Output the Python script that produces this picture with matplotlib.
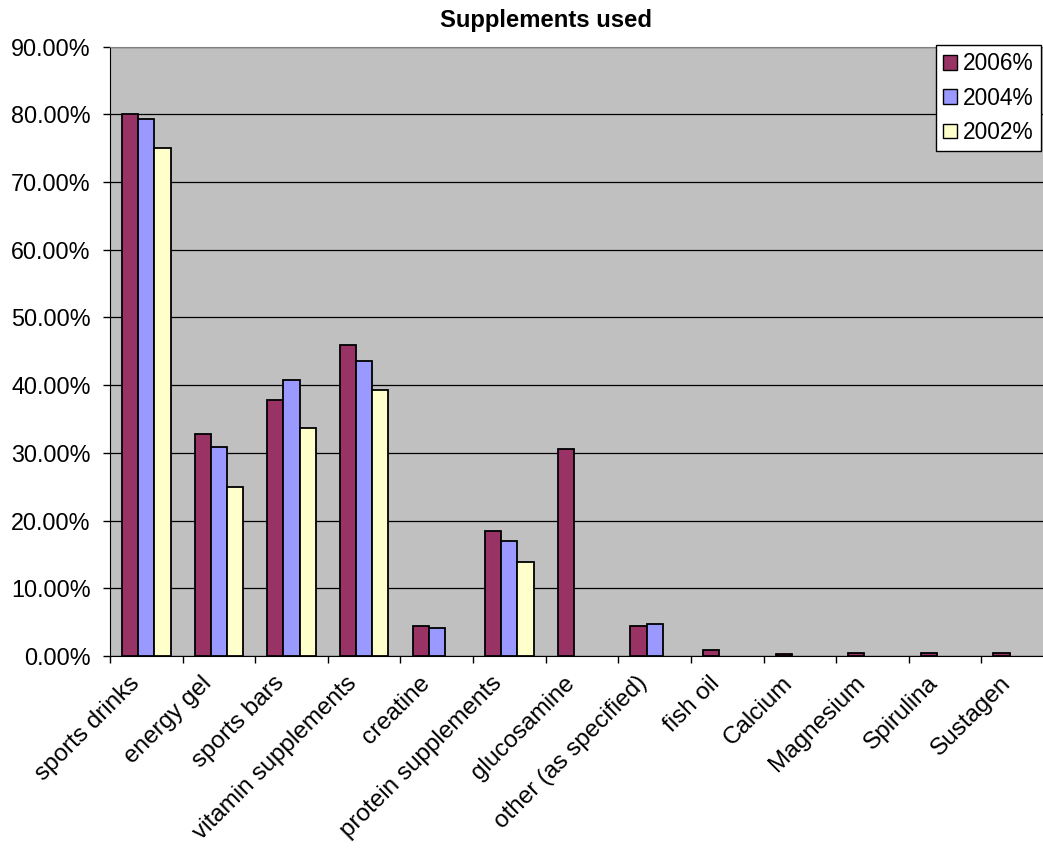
import numpy as np
import matplotlib
matplotlib.use("Agg")
import matplotlib.pyplot as plt
from matplotlib.ticker import FuncFormatter, FixedLocator
from matplotlib.patches import Patch

plt.rcParams['font.family'] = ['Liberation Sans', 'DejaVu Sans']

categories = ["sports drinks", "energy gel", "sports bars", "vitamin supplements",
              "creatine", "protein supplements", "glucosamine", "other (as specified)",
              "fish oil", "Calcium", "Magnesium", "Spirulina", "Sustagen"]

# Percentage of respondents using each supplement (nan = not surveyed)
y2006 = [80.0, 32.8, 37.8, 46.0, 4.5, 18.5, 30.6, 4.5, 0.9, 0.3, 0.45, 0.5, 0.4]
y2004 = [79.3, 30.8, 40.7, 43.6, 4.2, 17.0, np.nan, 4.8, np.nan, np.nan, np.nan, np.nan, np.nan]
y2002 = [75.1, 24.9, 33.7, 39.3, np.nan, 13.9, np.nan, np.nan, np.nan, np.nan, np.nan, np.nan, np.nan]

series = [("2006%", y2006, "#993366"),
          ("2004%", y2004, "#9999FF"),
          ("2002%", y2002, "#FFFFCC")]

W, H = 1043, 848
fig = plt.figure(figsize=(W / 100, H / 100), dpi=100)
left, right, top, bottom = 110, 1054, 46.7, 656
ax = fig.add_axes([left / W, (H - bottom) / H, (right - left) / W, (bottom - top) / H])
ax.set_facecolor("#C0C0C0")

x = np.arange(len(categories))
bw = 1 / 4.5
for i, (name, vals, col) in enumerate(series):
    ax.bar(x + (i - 1) * bw, vals, width=bw, color=col, edgecolor="black",
           linewidth=1.3, zorder=3, label=name)

ax.set_xlim(-0.5, len(categories) - 0.5)
ax.set_ylim(0, 90)
ax.set_yticks(np.arange(0, 91, 10))
ax.yaxis.set_major_formatter(FuncFormatter(lambda v, p: f"{v:.2f}%"))
ax.grid(axis="y", color="black", linewidth=0.9, zorder=1)
ax.set_axisbelow(True)

# category boundaries carry the tick marks; labels sit at the centers
ax.xaxis.set_major_locator(FixedLocator(np.arange(-0.5, len(categories), 1)))
ax.xaxis.set_major_formatter(FuncFormatter(lambda v, p: ""))
ax.tick_params(axis="x", which="major", length=5, width=1, color="black")
ax.tick_params(axis="y", length=5, width=1, labelsize=16.8, pad=9)

for xi, name in zip(x, categories):
    ax.text(xi - 0.25, -2.4, name, rotation=45, ha="right", va="top",
            rotation_mode="anchor", fontsize=17.5, transform=ax.transData)

for s in ["top", "right"]:
    ax.spines[s].set_color("#808080")
ax.spines["left"].set_color("black")
ax.spines["bottom"].set_color("black")

fig.text(546 / W, 1 - 21 / H, "Supplements used", ha="center", va="center",
         fontsize=17.2, fontweight="bold")

handles = [Patch(facecolor=c, edgecolor="black", linewidth=1.0, label=n) for n, _, c in series]
leg = fig.legend(handles=handles, loc="upper right", bbox_to_anchor=(1041 / W, 1 - 45 / H),
                 fontsize=16.4, frameon=True, fancybox=False, framealpha=1,
                 edgecolor="black", borderpad=0.32, handlelength=0.62, handleheight=0.62,
                 handletextpad=0.25, labelspacing=0.5, borderaxespad=0)
leg.get_frame().set_linewidth(1.0)

fig.savefig("out.png", dpi=100)
